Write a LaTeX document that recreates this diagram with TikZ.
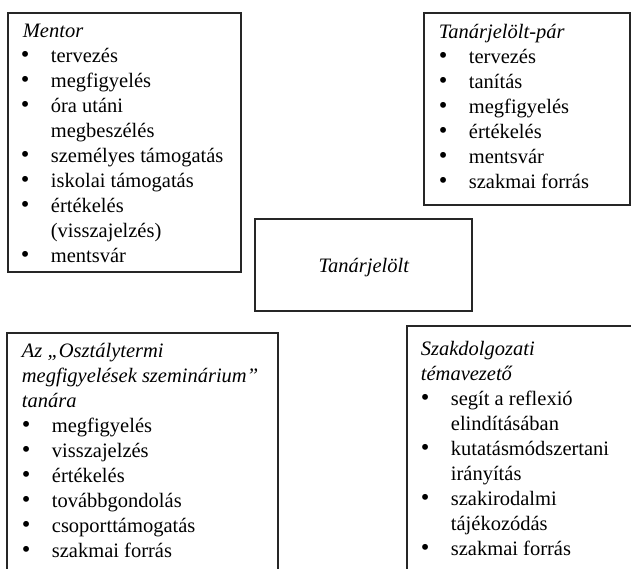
\documentclass[tikz,border=0pt]{standalone}
\usepackage{fontspec}
\setmainfont{Liberation Serif}
\usepackage{tikz}
\newcommand{\blt}{\makebox[30pt][l]{\scalebox{1.2}{\textbullet}}}
\newcommand{\cnt}{\hspace*{30pt}}

\begin{document}
\begin{tikzpicture}[x=1pt,y=-1pt]
  \tikzstyle{every node}+=[inner sep=0pt]
  \tikzstyle{frame}=[line width=1.6pt, black!85]
  \tikzstyle{list}=[anchor=base west, align=left, font=\fontsize{20.5}{25}\selectfont]
  \useasboundingbox (0,0) rectangle (631,568);
  \clip (0,0) rectangle (631,568);
  % boxes
  \draw [frame] (8,13) rectangle (241,272);
  \draw [frame] (424,13) rectangle (630,205);
  \draw [frame] (255,219) rectangle (472,311);
  \draw [frame] (7,600) -- (7,333) -- (278,333) -- (278,600);
  \draw [frame] (407,600) -- (407,326) -- (640,326);
  % texts (anchored at the last line)
  \node [list] (mentor) at (20.7,262) {\hspace*{2pt}\textit{Mentor}\\
    \blt tervezés\\
    \blt megfigyelés\\
    \blt óra utáni\\
    \cnt megbeszélés\\
    \blt személyes támogatás\\
    \blt iskolai támogatás\\
    \blt értékelés\\
    \cnt (visszajelzés)\\
    \blt mentsvár};
  \node [list] (par) at (438.7,188) {\textit{Tanárjelölt-pár}\\
    \blt tervezés\\
    \blt tanítás\\
    \blt megfigyelés\\
    \blt értékelés\\
    \blt mentsvár\\
    \blt szakmai forrás};
  \node [list, anchor=base] (jelolt) at (364,272) {\textit{Tanárjelölt}};
  \node [list] (szeminar) at (21.7,557) {\textit{Az „Osztálytermi}\\
    \textit{megfigyelések szeminárium”}\\
    \textit{tanára}\\
    \blt megfigyelés\\
    \blt visszajelzés\\
    \blt értékelés\\
    \blt továbbgondolás\\
    \blt csoporttámogatás\\
    \blt szakmai forrás};
  \node [list] (temavezeto) at (420.7,555) {\textit{Szakdolgozati}\\
    \textit{témavezető}\\
    \blt segít a reflexió\\
    \cnt elindításában\\
    \blt kutatásmódszertani\\
    \cnt irányítás\\
    \blt szakirodalmi\\
    \cnt tájékozódás\\
    \blt szakmai forrás};
\end{tikzpicture}
\end{document}
